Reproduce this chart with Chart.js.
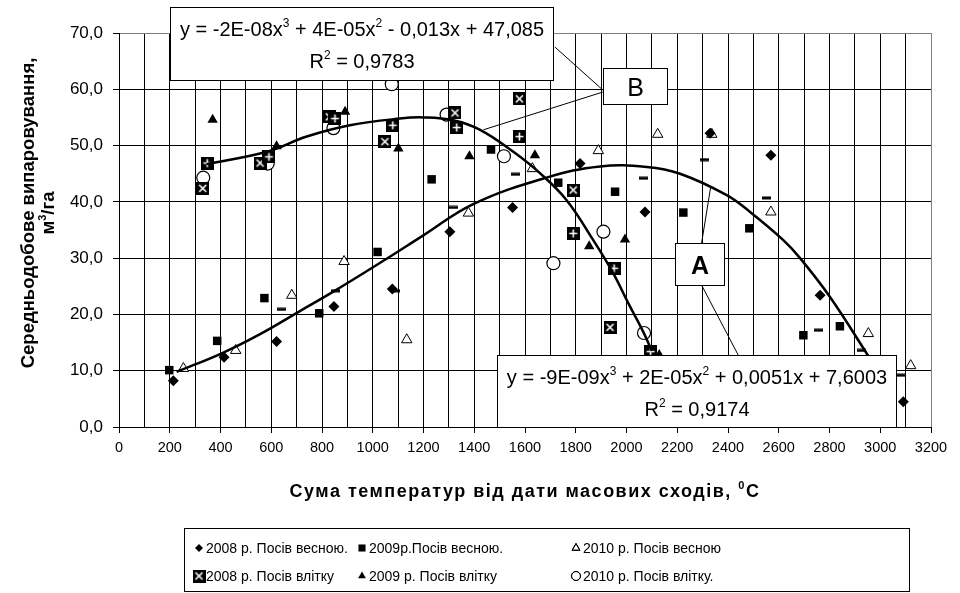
<!DOCTYPE html>
<html>
<head>
<meta charset="utf-8">
<script src="https://cdn.jsdelivr.net/npm/chart.js@4.4.1/dist/chart.umd.min.js"></script>
<style>
  html, body { margin: 0; background: #fff; }
  canvas { display: block; }
</style>
</head>
<body>
<canvas id="chart" width="960" height="593"></canvas>
<script>
// Evaporation vs accumulated temperature, six sowing series + two cubic trend lines
const FONT = "'Liberation Sans', Arial, sans-serif";

// ---- data: [sum of temperatures, m3/ha] ----------------------------------
const spring2008 = [[214, 8.2], [414, 12.4], [621, 15.2], [847, 21.4], [1077, 24.5], [1304, 34.7], [1551, 39.0],
  [1817, 46.8], [2073, 38.2], [2329, 52.2], [2569, 48.3], [2763, 23.4], [3091, 4.5]];
const spring2009 = [[198, 10.1], [387, 15.3], [573, 22.9], [789, 20.2], [1019, 31.1], [1232, 44.0], [1466, 49.3],
  [1731, 43.4], [1955, 41.8], [2224, 38.1], [2484, 35.3], [2697, 16.3], [2841, 17.9]];
const spring2010 = [[254, 10.4], [460, 13.6], [681, 23.4], [887, 29.4], [1134, 15.5], [1377, 38.0], [1629, 45.9],
  [1889, 49.1], [2123, 52.0], [2336, 52.0], [2569, 38.2], [2953, 16.6], [3120, 10.9]];
const summer2008 = [[330, 42.4], [556, 46.9], [829, 55.1], [1048, 50.7], [1324, 55.8], [1578, 58.3], [1790, 42.1],
  [1935, 17.7]];
const summer2009 = [[369, 54.6], [621, 49.9], [891, 56.0], [1101, 49.5], [1381, 48.1], [1639, 48.3], [1853, 32.1],
  [1994, 33.3], [2129, 12.8]];
const summer2010 = [[332, 44.3], [586, 46.8], [845, 53.1], [1075, 60.9], [1291, 55.5], [1517, 48.1], [1712, 29.1],
  [1909, 34.7], [2069, 16.7]];
// averaged series the trend lines were fitted to (not in the legend)
const summerMean = [[348, 46.9], [591, 48.0], [851, 54.8], [1079, 53.6], [1331, 53.2], [1578, 51.6], [1790, 34.4],
  [1951, 28.2], [2095, 13.4]];
const springMean = [[641, 20.9], [855, 24.2], [1088, 24.2], [1320, 39.0], [1561, 44.9], [2066, 44.2], [2309, 47.5],
  [2552, 40.7], [2756, 17.2], [2927, 13.6], [3078, 9.2]];

// trend curves
const trendA = [[227, 9.8], [405, 13.1], [556, 16.5], [713, 20.6], [843, 24.0], [1055, 29.9], [1198, 34.0],
  [1396, 39.6], [1685, 44.3], [1896, 46.3], [2080, 46.2], [2211, 45.0], [2395, 41.2], [2487, 38.2], [2618, 33.2],
  [2684, 30.0], [2802, 23.1], [2946, 13.1], [3010, 8.5]];
const trendB = [[345, 46.7], [582, 48.9], [740, 51.6], [910, 53.6], [1107, 54.8], [1200, 55.0], [1317, 54.5],
  [1423, 52.8], [1554, 48.9], [1659, 45.1], [1764, 40.3], [1869, 33.2], [1948, 27.3], [2007, 22.0], [2066, 16.9],
  [2100, 13.5]];

const legendNames = ["2008 р. Посів весною.", "2009р.Посів весною.", "2010 р. Посів весною",
  "2008 р. Посів влітку", "2009 р. Посів влітку", "2010 р. Посів влітку."];

// text runs: [text, superscript?]
const eqB = [["y = -2E-08x", 0], ["3", 1], [" + 4E-05x", 0], ["2", 1], [" - 0,013x + 47,085", 0]];
const r2B = [["R", 0], ["2", 1], [" = 0,9783", 0]];
const eqA = [["y = -9E-09x", 0], ["3", 1], [" + 2E-05x", 0], ["2", 1], [" + 0,0051x + 7,6003", 0]];
const r2A = [["R", 0], ["2", 1], [" = 0,9174", 0]];
const xTitle = [["Сума температур від дати масових сходів, ", 0], ["0", 1], ["C", 0]];
const yTitle1 = [["Середньодобове випаровування,", 0]];
const yTitle2 = [["м", 0], ["3", 1], ["/га", 0]];

// callout boxes and leader lines, in data units
const boxes = [
  { x0: 201, x1: 1709, y0: 74.7, y1: 61.6, lines: [eqB, r2B] },
  { x0: 1906, x1: 2161, y0: 63.8, y1: 57.4, letter: "B", bold: false },
  { x0: 2191, x1: 2385, y0: 32.7, y1: 25.2, letter: "A", bold: true },
  { x0: 1491, x1: 3062, y0: 12.8, y1: 0, lines: [eqA, r2A] },
];
const leaders = [
  [[1718, 67.5], [1906, 59.9]],
  [[1906, 59.5], [1436, 52.8]],
  [[2296, 32.7], [2332, 42.7]],
  [[2296, 25.2], [2447, 12.2]],
];

const pts = (arr) => arr.map(([x, y]) => ({ x, y }));

// black square with a white cross / plus, and a short dash
function mark(kind) {
  const c = document.createElement("canvas");
  const g = c.getContext("2d");
  if (kind === "dash") {
    c.width = 9; c.height = 4;
    g.fillStyle = "#000"; g.fillRect(0, 0.5, 9, 3);
    return c;
  }
  c.width = c.height = 13;
  g.fillStyle = "#000"; g.fillRect(0, 0, 13, 13);
  g.strokeStyle = "#fff"; g.lineWidth = 1.6;
  g.beginPath();
  if (kind === "x") { g.moveTo(3, 3); g.lineTo(10, 10); g.moveTo(10, 3); g.lineTo(3, 10); }
  else { g.moveTo(6.5, 2.5); g.lineTo(6.5, 10.5); g.moveTo(2.5, 6.5); g.lineTo(10.5, 6.5); }
  g.stroke();
  return c;
}
const MARK_X = mark("x"), MARK_PLUS = mark("plus"), MARK_DASH = mark("dash");

const styles = [
  { pointStyle: "rectRot", radius: 5.5, bg: "#000", bw: 0 },
  { pointStyle: "rect", radius: 6, bg: "#000", bw: 0 },
  { pointStyle: "triangle", radius: 6, bg: "#fff", bw: 1 },
  { pointStyle: MARK_X, radius: 6, bg: "#000", bw: 0 },
  { pointStyle: "triangle", radius: 6, bg: "#000", bw: 0 },
  { pointStyle: "circle", radius: 6.5, bg: "#fff", bw: 1.2 },
];
const legendStyles = [
  { pointStyle: "rectRot", radius: 4, bg: "#000", bw: 0 },
  { pointStyle: "rect", radius: 5, bg: "#000", bw: 0 },
  { pointStyle: "triangle", radius: 4.5, bg: "#fff", bw: 1 },
  { pointStyle: MARK_X, radius: 6, bg: "#000", bw: 0 },
  { pointStyle: "triangle", radius: 4.5, bg: "#000", bw: 0 },
  { pointStyle: "circle", radius: 4.5, bg: "#fff", bw: 1 },
];

const series = [spring2008, spring2009, spring2010, summer2008, summer2009, summer2010];
const markerSets = series.map((s, i) => ({
  label: legendNames[i], data: pts(s), order: 2,
  pointStyle: styles[i].pointStyle, pointRadius: styles[i].radius, pointHoverRadius: styles[i].radius,
  backgroundColor: styles[i].bg, borderColor: "#000", borderWidth: styles[i].bw,
}));

function rich(ctx, parts, x, y, size, weight, align) {
  const big = `${weight} ${size}px ${FONT}`, small = `${weight} ${Math.round(size * 0.62)}px ${FONT}`;
  let w = 0;
  for (const [t, sup] of parts) { ctx.font = sup ? small : big; w += ctx.measureText(t).width; }
  let cx = align === "center" ? x - w / 2 : x;
  ctx.textAlign = "left"; ctx.textBaseline = "alphabetic";
  for (const [t, sup] of parts) {
    ctx.font = sup ? small : big;
    ctx.fillText(t, cx, sup ? y - size * 0.42 : y);
    cx += ctx.measureText(t).width;
  }
}

// callouts, axis titles and the boxed legend
const decor = {
  id: "decor",
  afterDraw(chart) {
    const { ctx, chartArea: a, scales: { x, y } } = chart;
    ctx.save();
    ctx.fillStyle = "#000";
    ctx.strokeStyle = "#000";
    ctx.lineWidth = 1;
    for (const [p, q] of leaders) {
      ctx.beginPath();
      ctx.moveTo(x.getPixelForValue(p[0]), y.getPixelForValue(p[1]));
      ctx.lineTo(x.getPixelForValue(q[0]), y.getPixelForValue(q[1]));
      ctx.stroke();
    }
    for (const b of boxes) {
      const l = Math.round(x.getPixelForValue(b.x0)) + 0.5, r = Math.round(x.getPixelForValue(b.x1)) + 0.5;
      const t = Math.round(y.getPixelForValue(b.y0)) + 0.5, bt = Math.round(y.getPixelForValue(b.y1)) + 0.5;
      ctx.fillStyle = "#fff"; ctx.fillRect(l, t, r - l, bt - t);
      ctx.strokeStyle = "#000"; ctx.strokeRect(l, t, r - l, bt - t);
      ctx.fillStyle = "#000";
      const cx = (l + r) / 2;
      if (b.letter) {
        ctx.font = `${b.bold ? "bold " : ""}25px ${FONT}`;
        ctx.textAlign = "center"; ctx.textBaseline = "alphabetic";
        ctx.fillText(b.letter, cx, (t + bt) / 2 + 9);
      } else {
        rich(ctx, b.lines[0], cx, t + 28, 20, "normal", "center");
        rich(ctx, b.lines[1], cx, t + 60, 20, "normal", "center");
      }
    }
    // axis titles
    ctx.fillStyle = "#000";
    if ("letterSpacing" in ctx) ctx.letterSpacing = "1.5px";
    rich(ctx, xTitle, (a.left + a.right) / 2, a.bottom + 70, 18, "bold", "center");
    if ("letterSpacing" in ctx) ctx.letterSpacing = "0px";
    ctx.save();
    ctx.translate(0, (a.top + a.bottom) / 2 - 17);
    ctx.rotate(-Math.PI / 2);
    rich(ctx, yTitle1, 0, 34, 18.5, "bold", "center");
    rich(ctx, yTitle2, 0, 54, 18.5, "bold", "center");
    ctx.restore();
    // legend
    const L = 184, R = 909, T = 528, B = 591;
    ctx.strokeStyle = "#000";
    ctx.strokeRect(L + 0.5, T + 0.5, R - L, B - T);
    const cols = [199, 362, 576], rows = [548, 576];
    ctx.font = `14px ${FONT}`;
    ctx.textAlign = "left"; ctx.textBaseline = "middle";
    legendNames.forEach((name, i) => {
      const mx = cols[i % 3], my = rows[Math.floor(i / 3)], s = legendStyles[i];
      ctx.fillStyle = s.bg; ctx.strokeStyle = "#000"; ctx.lineWidth = s.bw || 0.001;
      Chart.helpers.drawPoint(ctx, { pointStyle: s.pointStyle, radius: s.radius, rotation: 0, borderWidth: s.bw }, mx, my);
      if (s.bw) ctx.stroke();
      ctx.fillStyle = "#000";
      ctx.fillText(name, mx + 7, my + 1);
    });
    ctx.restore();
  },
};

new Chart(document.getElementById("chart"), {
  type: "scatter",
  data: {
    datasets: [
      { label: "A", data: pts(trendA), showLine: true, pointRadius: 0, borderColor: "#000", borderWidth: 2.5,
        tension: 0.4, order: 0 },
      { label: "B", data: pts(trendB), showLine: true, pointRadius: 0, borderColor: "#000", borderWidth: 2.5,
        tension: 0.4, order: 0 },
      { label: "summer mean", data: pts(summerMean), pointStyle: MARK_PLUS, pointRadius: 6, order: 1 },
      { label: "spring mean", data: pts(springMean), pointStyle: MARK_DASH, pointRadius: 4, order: 1 },
      ...markerSets,
    ],
  },
  options: {
    responsive: false,
    animation: false,
    layout: { padding: { top: 33, right: 29, bottom: 86, left: 0 } },
    plugins: { legend: { display: false }, tooltip: { enabled: false } },
    scales: {
      x: {
        type: "linear", min: 0, max: 3200,
        ticks: { stepSize: 100, autoSkip: false, maxRotation: 0, color: "#000", padding: 6,
          font: { family: FONT, size: 14.5 }, callback: (v) => (v % 200 === 0 ? String(v) : "") },
        grid: { color: (c) => (c.tick && c.tick.value === 3200 ? "#808080" : "#000"),
          tickColor: (c) => (c.tick && c.tick.value % 200 === 0 ? "#000" : "rgba(0,0,0,0)"), tickLength: 6 },
        border: { color: "#000" },
        afterFit: (s) => { s.height = 80; },
      },
      y: {
        min: 0, max: 70,
        ticks: { stepSize: 10, color: "#000", padding: 10, font: { family: FONT, size: 17 },
          callback: (v) => v.toFixed(1).replace(".", ",") },
        grid: { color: (c) => (c.tick && c.tick.value === 70 ? "#808080" : "#000"), tickColor: "#000", tickLength: 6 },
        border: { color: "#000" },
        afterFit: (s) => { s.width = 119; },
      },
    },
  },
  plugins: [decor],
});
</script>
</body>
</html>
